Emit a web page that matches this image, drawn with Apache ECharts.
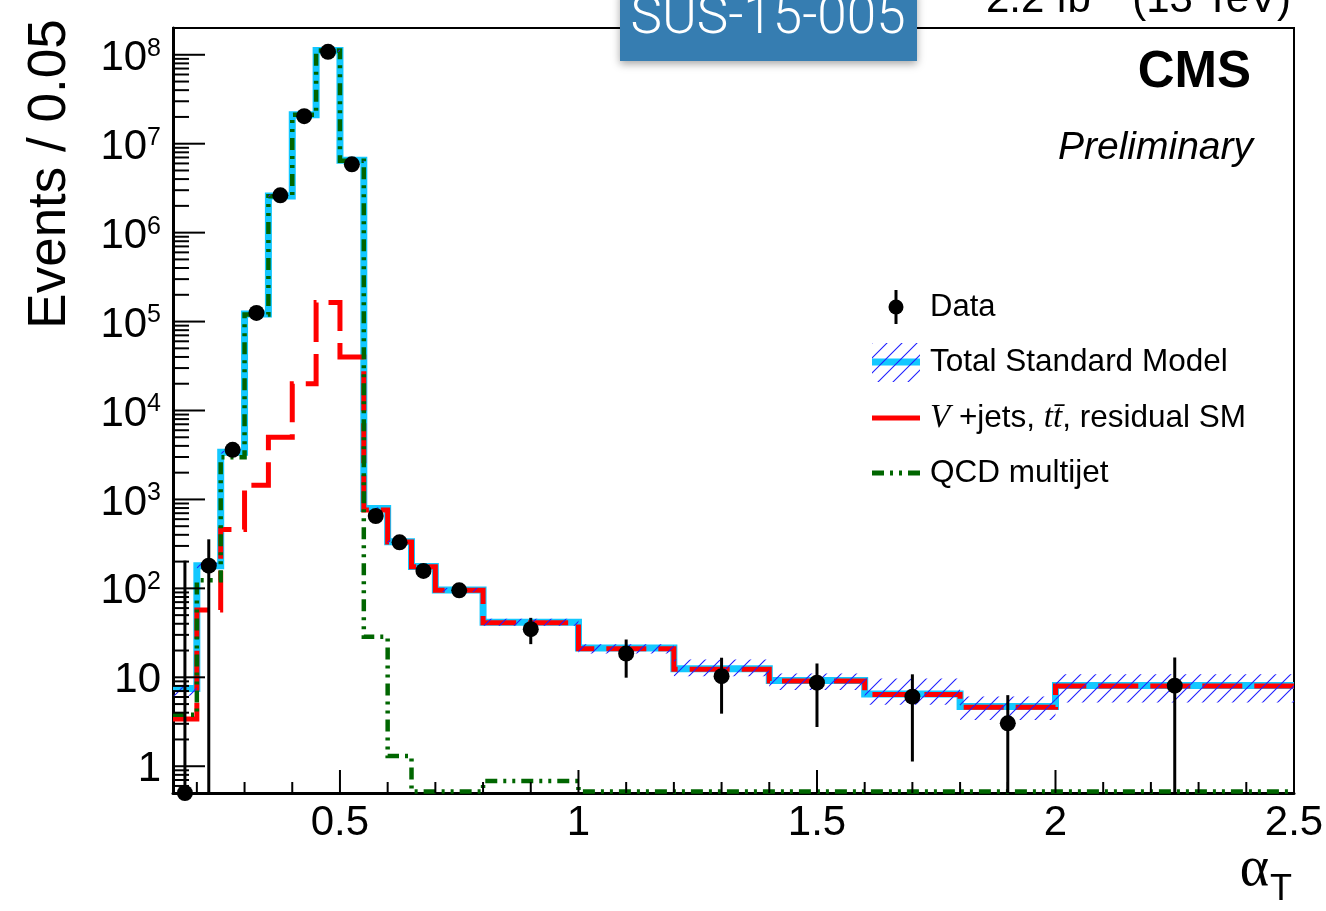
<!DOCTYPE html>
<html>
<head>
<meta charset="utf-8">
<title>alphaT distribution</title>
<script src="https://cdn.jsdelivr.net/npm/echarts@6/dist/echarts.min.js"></script>
<style>
  html, body { margin: 0; padding: 0; background: #ffffff; }
  #chart { width: 1326px; height: 911px; }
</style>
</head>
<body>
<div id="chart"></div>
<script>
// ---- alpha_T histogram: bin edges and per-bin yields (events / bin) ----
const binEdges = [0.15, 0.2, 0.25, 0.3, 0.35, 0.4, 0.45, 0.5, 0.55, 0.6, 0.65, 0.7, 0.8, 1.0, 1.2, 1.4, 1.6, 1.8, 2.0, 2.5];

const totalSM     = [7.5, 180, 3400, 1.22e5, 2.58e6, 2.12e7, 1.12e8, 6.5e6, 790, 335, 176, 96, 41.5, 21.3, 12.5, 9.2, 6.5, 4.7, 8.1];
const totalSMLow  = [6.2, 168, 3280, 1.17e5, 2.48e6, 2.04e7, 1.08e8, 6.25e6, 760, 322, 168, 91, 38, 18.5, 10.3, 7.2, 4.9, 3.3, 5.2];
const totalSMHigh = [8.2, 192, 3520, 1.27e5, 2.68e6, 2.2e7, 1.16e8, 6.75e6, 815, 348, 184, 101, 45.5, 23.6, 15.9, 11.0, 9.7, 6.1, 10.8];
const vjetsSM     = [3.4, 57, 460, 1440, 5000, 2.0e4, 1.64e5, 4.0e4, 760, 333, 175, 95, 41, 21, 12.3, 9.1, 6.4, 4.6, 8.0];
const qcdMultijet = [3.8, 123, 2990, 1.2e5, 2.57e6, 2.12e7, 1.12e8, 6.45e6, 28.5, 1.3, 0.52, 0.52, 0.68, 0.52, 0.52, 0.52, 0.52, 0.52, 0.52];

// observed data: bin centres, counts and error-bar ends
const dataX    = [0.175, 0.225, 0.275, 0.325, 0.375, 0.425, 0.475, 0.525, 0.575, 0.625, 0.675, 0.75, 0.9, 1.1, 1.3, 1.5, 1.7, 1.9, 2.25];
const dataY    = [0.5, 180, 3610, 1.25e5, 2.63e6, 2.04e7, 1.08e8, 5.86e6, 651, 329, 157, 95, 34.8, 18.5, 10.3, 8.7, 6.06, 3.04, 8.05];
const dataHigh = [205, 356, 3670, 1.26e5, 2.64e6, 2.05e7, 1.081e8, 5.87e6, 676, 347, 170, 105, 46.6, 26.6, 16.6, 14.3, 10.8, 6.3, 16.7];
const dataLow  = [0.5, 0.5, 3550, 1.24e5, 2.62e6, 2.03e7, 1.079e8, 5.85e6, 626, 311, 145, 86, 23.6, 9.9, 3.9, 2.76, 1.13, 0.5, 0.5];

// axis ticks and labels
const xMajorTicks = [0.5, 1, 1.5, 2, 2.5];
const xTickLabels = ['0.5', '1', '1.5', '2', '2.5'];
const xMinorTicks = [0.2, 0.3, 0.4, 0.6, 0.7, 0.8, 0.9, 1.1, 1.2, 1.3, 1.4, 1.6, 1.7, 1.8, 1.9, 2.1, 2.2, 2.3, 2.4];
const yMajorTicks = [1, 10, 1e2, 1e3, 1e4, 1e5, 1e6, 1e7, 1e8];
const yTickLabels = ['1', '10', '{b|10}{s|2}', '{b|10}{s|3}', '{b|10}{s|4}', '{b|10}{s|5}', '{b|10}{s|6}', '{b|10}{s|7}', '{b|10}{s|8}'];

const X_MIN = 0.15, X_MAX = 2.5, Y_MIN = 0.5, Y_MAX = 2e8;
const SANS = "'Liberation Sans', Arial, Helvetica, sans-serif";
const SERIF = "'Liberation Serif', 'Times New Roman', serif";

// log-axis minor ticks at 2..9 x 10^k
const yMinorTicks = [];
for (let k = -1; k <= 8; k++) {
  for (let m = 2; m <= 9; m++) {
    const v = m * Math.pow(10, k);
    if (v > Y_MIN && v < Y_MAX) yMinorTicks.push(v);
  }
}

// diagonal hatch fill for the SM uncertainty band
function makeHatch() {
  const s = 15;
  const c = document.createElement('canvas');
  c.width = s; c.height = s;
  const g = c.getContext('2d');
  g.strokeStyle = '#2020ff';
  g.lineWidth = 1.1;
  g.beginPath();
  g.moveTo(-2, s + 2); g.lineTo(s + 2, -2);
  g.moveTo(-2, 2); g.lineTo(2, -2);
  g.moveTo(s - 2, s + 2); g.lineTo(s + 2, s - 2);
  g.stroke();
  return c;
}
const hatchFill = { type: 'pattern', image: makeHatch(), repeat: 'repeat' };

function stepPoints(vals) {
  const pts = vals.map((v, i) => [binEdges[i], v]);
  pts.push([binEdges[binEdges.length - 1], vals[vals.length - 1]]);
  return pts;
}

function matchTick(list, labels, v, useLog) {
  for (let i = 0; i < list.length; i++) {
    const d = useLog ? Math.abs(Math.log10(v) - Math.log10(list[i])) : Math.abs(v - list[i]);
    if (d < 1e-6) return labels[i];
  }
  return '';
}

const bandData = totalSM.map((v, i) => [binEdges[i], binEdges[i + 1], totalSMLow[i], totalSMHigh[i]]);
const errData = dataX.map((x, i) => [x, dataLow[i], dataHigh[i]]);
const xTickData = xMajorTicks.map(v => [v, Y_MIN, 23]).concat(xMinorTicks.map(v => [v, Y_MIN, 11]));
const yTickData = yMajorTicks.map(v => [X_MIN, v, 32]).concat(yMinorTicks.map(v => [X_MIN, v, 16]));

const chart = echarts.init(document.getElementById('chart'), null, { renderer: 'canvas' });

const option = {
  animation: false,
  backgroundColor: '#ffffff',
  textStyle: { fontFamily: SANS },
  grid: {
    left: 173, right: 32, top: 28, bottom: 118,
    show: true, borderColor: '#000', borderWidth: 2,
    containLabel: false, outerBoundsMode: 'none'
  },
  xAxis: {
    type: 'value', min: X_MIN, max: X_MAX, interval: 0.05,
    axisLine: { show: true, lineStyle: { color: '#000', width: 3 } },
    axisTick: { show: false },
    splitLine: { show: false },
    axisLabel: {
      color: '#000', fontSize: 42, fontFamily: SANS, margin: 9,
      formatter: v => matchTick(xMajorTicks, xTickLabels, v, false)
    }
  },
  yAxis: {
    type: 'log', logBase: 10, min: Y_MIN, max: Y_MAX,
    axisLine: { show: true, lineStyle: { color: '#000', width: 3 } },
    axisTick: { show: false },
    splitLine: { show: false },
    minorTick: { show: false },
    axisLabel: {
      color: '#000', fontSize: 42, fontFamily: SANS, margin: 12,
      padding: [7, 0, 0, 0],
      formatter: v => matchTick(yMajorTicks, yTickLabels, v, true),
      rich: {
        b: { fontSize: 42, fontFamily: SANS, color: '#000', lineHeight: 44 },
        s: { fontSize: 25, fontFamily: SANS, color: '#000', verticalAlign: 'top', lineHeight: 25 }
      }
    }
  },
  series: [
    {
      name: 'Total Standard Model', type: 'line', step: 'end', z: 2,
      data: stepPoints(totalSM), symbol: 'none', showSymbol: false,
      lineStyle: { color: '#13c8ff', width: 7, cap: 'butt', join: 'miter' }
    },
    {
      name: 'V+jets, ttbar, residual SM', type: 'line', step: 'end', z: 3,
      data: stepPoints(vjetsSM), symbol: 'none', showSymbol: false,
      lineStyle: { color: '#ff0000', width: 5, type: [40, 12], cap: 'butt', join: 'miter' }
    },
    {
      name: 'QCD multijet', type: 'line', step: 'end', z: 4,
      data: stepPoints(qcdMultijet), symbol: 'none', showSymbol: false,
      lineStyle: { color: '#006600', width: 4.5, type: [12, 6, 3, 6, 3, 6], cap: 'butt', join: 'miter' }
    },
    {
      name: 'SM uncertainty', type: 'custom', z: 5, clip: true,
      encode: { x: [0, 1], y: [2, 3] },
      data: bandData,
      renderItem: (params, api) => {
        const p0 = api.coord([api.value(0), api.value(3)]);
        const p1 = api.coord([api.value(1), api.value(2)]);
        return {
          type: 'rect',
          shape: { x: p0[0], y: p0[1], width: p1[0] - p0[0], height: p1[1] - p0[1] },
          style: { fill: hatchFill, stroke: null }
        };
      }
    },
    {
      name: 'x ticks', type: 'custom', z: 6, clip: false, silent: true,
      encode: { x: 0, y: 1 },
      data: xTickData,
      renderItem: (params, api) => {
        const p = api.coord([api.value(0), api.value(1)]);
        const len = api.value(2);
        return { type: 'line', shape: { x1: p[0], y1: p[1], x2: p[0], y2: p[1] - len }, style: { stroke: '#000', lineWidth: 2 } };
      }
    },
    {
      name: 'y ticks', type: 'custom', z: 6, clip: false, silent: true,
      encode: { x: 0, y: 1 },
      data: yTickData,
      renderItem: (params, api) => {
        const p = api.coord([api.value(0), api.value(1)]);
        const len = api.value(2);
        return { type: 'line', shape: { x1: p[0], y1: p[1], x2: p[0] + len, y2: p[1] }, style: { stroke: '#000', lineWidth: 2 } };
      }
    },
    {
      name: 'Data errors', type: 'custom', z: 7, clip: false,
      encode: { x: 0, y: [1, 2] },
      data: errData,
      renderItem: (params, api) => {
        const lo = api.coord([api.value(0), api.value(1)]);
        const hi = api.coord([api.value(0), api.value(2)]);
        return { type: 'line', shape: { x1: lo[0], y1: lo[1], x2: hi[0], y2: hi[1] }, style: { stroke: '#000', lineWidth: 3 } };
      }
    },
    {
      name: 'Data', type: 'scatter', z: 8, clip: false,
      data: dataX.map((x, i) => [x, dataY[i]]),
      symbol: 'circle', symbolSize: 16,
      itemStyle: { color: '#000', opacity: 1, borderWidth: 0 }
    }
  ],
  graphic: [
    // analysis tag
    {
      type: 'rect', z: 100,
      shape: { x: 620, y: -10, width: 297, height: 71 },
      style: { fill: '#367db1', shadowBlur: 8, shadowOffsetY: 3, shadowColor: 'rgba(0,0,0,0.35)' }
    },
    {
      type: 'text', z: 101, x: 768, y: 20,
      style: {
        text: 'SUS-15-005', fill: '#ffffff', fontSize: 53, fontWeight: 300,
        fontFamily: "Roboto, 'Open Sans', sans-serif",
        align: 'center', verticalAlign: 'middle', textAlign: 'center', textVerticalAlign: 'middle'
      }
    },
    // luminosity / energy
    {
      type: 'text', z: 50, x: 1291, y: 0,
      style: {
        text: '2.2 fb{s|\u22121} (13 TeV)', fill: '#000', fontSize: 42, fontFamily: SANS,
        align: 'right', verticalAlign: 'middle', textAlign: 'right', textVerticalAlign: 'middle',
        rich: { s: { fontSize: 26, fontFamily: SANS, verticalAlign: 'top', fill: '#000' } }
      }
    },
    {
      type: 'text', z: 50, x: 1251, y: 73,
      style: {
        text: 'CMS', fill: '#000', fontSize: 51, fontWeight: 'bold', fontFamily: SANS,
        align: 'right', verticalAlign: 'middle', textAlign: 'right', textVerticalAlign: 'middle'
      }
    },
    {
      type: 'text', z: 50, x: 1253, y: 148,
      style: {
        text: 'Preliminary', fill: '#000', fontSize: 39, fontStyle: 'italic', fontFamily: SANS,
        align: 'right', verticalAlign: 'middle', textAlign: 'right', textVerticalAlign: 'middle'
      }
    },
    // axis titles
    {
      type: 'text', z: 50, x: 50, y: 174, rotation: Math.PI / 2,
      style: {
        text: 'Events / 0.05', fill: '#000', fontSize: 53, fontFamily: SANS,
        align: 'center', verticalAlign: 'middle', textAlign: 'center', textVerticalAlign: 'middle'
      }
    },
    {
      type: 'text', z: 50, x: 1269, y: 870,
      style: {
        text: '\u03b1', fill: '#000', fontSize: 56, fontFamily: SERIF,
        align: 'right', verticalAlign: 'middle', textAlign: 'right', textVerticalAlign: 'middle'
      }
    },
    {
      type: 'text', z: 50, x: 1270, y: 890,
      style: {
        text: 'T', fill: '#000', fontSize: 36, fontFamily: SANS,
        align: 'left', verticalAlign: 'middle', textAlign: 'left', textVerticalAlign: 'middle'
      }
    },
    // legend: Data
    { type: 'line', z: 50, shape: { x1: 896, y1: 290, x2: 896, y2: 324 }, style: { stroke: '#000', lineWidth: 3 } },
    { type: 'circle', z: 51, shape: { cx: 896, cy: 307, r: 7.5 }, style: { fill: '#000' } },
    {
      type: 'text', z: 50, x: 930, y: 307,
      style: { text: 'Data', fill: '#000', fontSize: 31, fontFamily: SANS, align: 'left', verticalAlign: 'middle', textAlign: 'left', textVerticalAlign: 'middle' }
    },
    // legend: Total Standard Model
    { type: 'line', z: 50, shape: { x1: 872, y1: 362, x2: 920, y2: 362 }, style: { stroke: '#13c8ff', lineWidth: 7 } },
    { type: 'rect', z: 51, shape: { x: 872, y: 343, width: 48, height: 39 }, style: { fill: hatchFill } },
    {
      type: 'text', z: 50, x: 930, y: 362,
      style: { text: 'Total Standard Model', fill: '#000', fontSize: 31.5, fontFamily: SANS, align: 'left', verticalAlign: 'middle', textAlign: 'left', textVerticalAlign: 'middle' }
    },
    // legend: V+jets
    { type: 'line', z: 50, shape: { x1: 872, y1: 418, x2: 920, y2: 418 }, style: { stroke: '#ff0000', lineWidth: 5 } },
    {
      type: 'text', z: 50, x: 930, y: 418,
      style: {
        text: '{i|V} +jets, {i|tt\u0304}, residual SM', fill: '#000', fontSize: 31.5, fontFamily: SANS,
        align: 'left', verticalAlign: 'middle', textAlign: 'left', textVerticalAlign: 'middle',
        rich: { i: { fontSize: 33, fontFamily: SERIF, fontStyle: 'italic', fill: '#000' } }
      }
    },
    // legend: QCD multijet
    { type: 'line', z: 50, shape: { x1: 872, y1: 473, x2: 920, y2: 473 }, style: { stroke: '#006600', lineWidth: 5, lineDash: [12, 6, 3, 6, 3, 6] } },
    {
      type: 'text', z: 50, x: 930, y: 473,
      style: { text: 'QCD multijet', fill: '#000', fontSize: 31.5, fontFamily: SANS, align: 'left', verticalAlign: 'middle', textAlign: 'left', textVerticalAlign: 'middle' }
    }
  ]
};

chart.setOption(option);
</script>
</body>
</html>
